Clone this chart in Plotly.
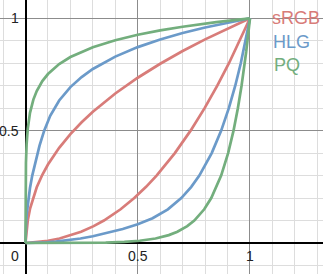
import plotly.graph_objects as go

# Linear-light input values and their encoded values
srgb_lin = [0, 0.0031308, 0.005, 0.01, 0.02, 0.035, 0.05, 0.075, 0.1, 0.15, 0.2, 0.25,
            0.3, 0.4, 0.5, 0.6, 0.7, 0.8, 0.9, 1.0]
srgb_enc = [0, 0.0404, 0.0610, 0.0999, 0.1517, 0.2060, 0.2478, 0.3035, 0.3492, 0.4236,
            0.4845, 0.5371, 0.5838, 0.6653, 0.7354, 0.7978, 0.8543, 0.9063, 0.9546, 1.0]

hlg_lin = [0, 0.001, 0.003, 0.006, 0.01, 0.02, 0.03, 0.045, 0.0625, 0.0833, 0.11, 0.15,
           0.2, 0.25, 0.3, 0.4, 0.5, 0.6, 0.7, 0.8, 0.9, 1.0]
hlg_enc = [0, 0.0548, 0.0949, 0.1342, 0.1732, 0.2449, 0.3, 0.3674, 0.4330, 0.5, 0.5661,
           0.6342, 0.6939, 0.7385, 0.7743, 0.8295, 0.8717, 0.9057, 0.9343, 0.9590, 0.9807, 1.0]

pq_lin = [0, 1e-6, 1e-5, 1e-4, 0.0005, 0.001, 0.002, 0.005, 0.01, 0.02, 0.035, 0.05,
          0.075, 0.1, 0.15, 0.2, 0.3, 0.4, 0.5, 0.6, 0.7, 0.85, 0.95, 1.0]
pq_enc = [0, 0.0215, 0.0623, 0.1500, 0.2478, 0.2998, 0.3571, 0.4403, 0.5081, 0.5792,
          0.6383, 0.6766, 0.7206, 0.7519, 0.7961, 0.8274, 0.8715, 0.9026, 0.9266, 0.9460,
          0.9624, 0.9829, 0.9946, 1.0]

series_names = ["sRGB", "HLG", "PQ"]
series_colors = ["#d87c79", "#6b9ac9", "#73ae7d"]

x_tick_vals = [0, 0.5, 1]
x_tick_text = ["0", "0.5", "1"]
y_tick_vals = [0.5, 1]
y_tick_text = ["0.5", "1"]

fig = go.Figure()
data = [(srgb_lin, srgb_enc), (hlg_lin, hlg_enc), (pq_lin, pq_enc)]
for (lin, enc), name, col in zip(data, series_names, series_colors):
    # encoding curve (OETF) and its inverse (EOTF) as the mirror image
    fig.add_trace(go.Scatter(x=lin, y=enc, mode="lines", name=name,
                             line=dict(color=col, width=2.7), showlegend=False,
                             hoverinfo="skip"))
    fig.add_trace(go.Scatter(x=enc, y=lin, mode="lines", name=name,
                             line=dict(color=col, width=2.7), showlegend=False,
                             hoverinfo="skip"))

# curve labels
label_y = [1.0, 0.893, 0.792]
label_x = [1.090, 1.094, 1.098]
for name, col, lx, ly in zip(series_names, series_colors, label_x, label_y):
    fig.add_annotation(x=lx, y=ly, xref="x", yref="y", text=name, showarrow=False,
                       xanchor="left", yanchor="middle",
                       font=dict(family="Liberation Sans, Arial", size=18, color=col))

tick_font = dict(family="Liberation Sans, Arial", size=14, color="#222222")
for v, t in zip(x_tick_vals, x_tick_text):
    if v == 0:
        fig.add_annotation(x=-0.018, y=-0.058, xref="x", yref="y", text=t, showarrow=False,
                           xanchor="right", yanchor="middle", font=tick_font)
    else:
        fig.add_annotation(x=v, y=-0.058, xref="x", yref="y", text=t, showarrow=False,
                           xanchor="center", yanchor="middle", font=tick_font)
for v, t in zip(y_tick_vals, y_tick_text):
    fig.add_annotation(x=-0.019, y=v, xref="x", yref="y", text=t, showarrow=False,
                       xanchor="right", yanchor="middle", font=tick_font)

axis_common = dict(
    showticklabels=False, ticks="", showline=False,
    zeroline=True, zerolinecolor="#000000", zerolinewidth=2,
    showgrid=True, gridcolor="#8c8c8c", gridwidth=1, tick0=0, dtick=0.5,
    minor=dict(showgrid=True, gridcolor="#dddddd", gridwidth=1, tick0=0, dtick=0.1),
)
fig.update_layout(
    width=323, height=274,
    margin=dict(l=0, r=0, t=0, b=0),
    paper_bgcolor="white", plot_bgcolor="white",
    xaxis=dict(range=[-0.1136, 1.3252], **axis_common),
    yaxis=dict(range=[-0.138, 1.0814], **axis_common),
)

fig.write_html("out.html")
